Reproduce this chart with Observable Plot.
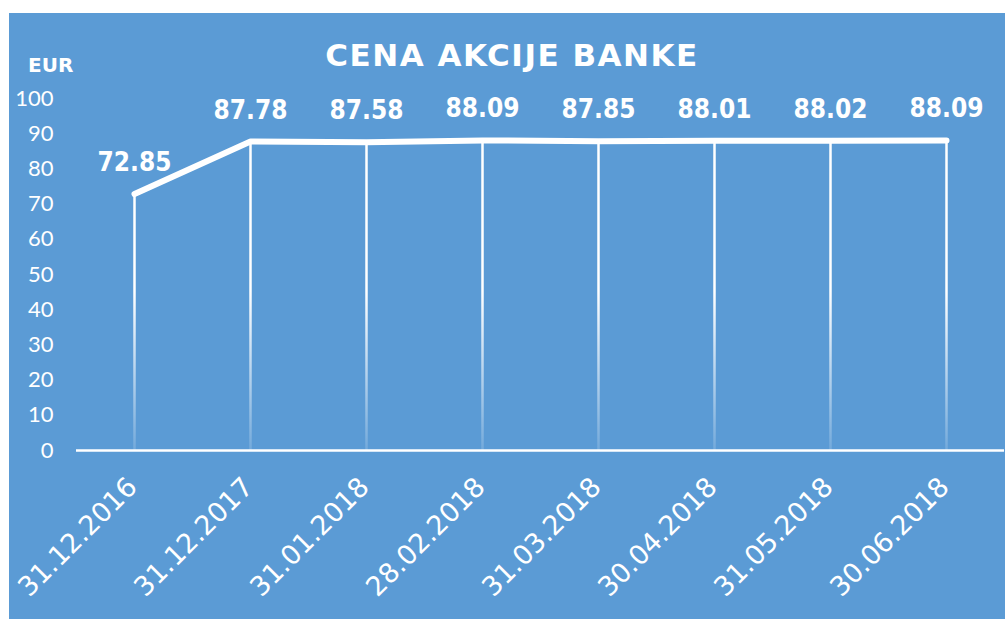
<!DOCTYPE html>
<html>
<head>
<meta charset="utf-8">
<script src="https://cdn.jsdelivr.net/npm/d3@7"></script>
<script src="https://cdn.jsdelivr.net/npm/@observablehq/plot@0.6"></script>
<style>
  html, body { margin: 0; padding: 0; background: #ffffff; }
  #wrap { position: absolute; left: 9px; top: 13px; width: 996px; height: 606px; background: #5b9bd5; overflow: hidden; }
  #title { position: absolute; left: 5px; width: 996px; top: 27px; text-align: center; color: #fff;
           font: bold 31px "DejaVu Sans"; line-height: 31px; letter-spacing: 1.5px; white-space: nowrap; }
  #unit { position: absolute; left: 19px; top: 42px; color: #fff; font: bold 20px "DejaVu Sans"; line-height: 20px; }
  #chart { position: absolute; left: 0; top: 0; }
</style>
</head>
<body>
<div id="wrap">
  <div id="chart"></div>
  <div id="title">CENA AKCIJE BANKE</div>
  <div id="unit">EUR</div>
</div>
<script>
const dates = ["31.12.2016", "31.12.2017", "31.01.2018", "28.02.2018", "31.03.2018", "30.04.2018", "31.05.2018", "30.06.2018"];
const prices = [72.85, 87.78, 87.58, 88.09, 87.85, 88.01, 88.02, 88.09];
const yTicks = [0, 10, 20, 30, 40, 50, 60, 70, 80, 90, 100];

const data = dates.map((d, i) => ({date: d, price: prices[i]}));

const chart = Plot.plot({
  width: 996,
  height: 606,
  marginTop: 85,
  marginBottom: 169,
  marginLeft: 67,
  marginRight: 1,
  style: {background: "transparent", color: "white", overflow: "visible"},
  x: {type: "point", domain: dates, padding: 0.5},
  y: {domain: [0, 100]},
  marks: [
    Plot.axisY({ticks: yTicks, tickSize: 0, tickPadding: 23, fontSize: 22, fontFamily: "Lato", label: null, fill: "white"}),
    Plot.axisX({tickRotate: -45, tickSize: 0, tickPadding: 32, dx: -2, fontSize: 27, fontFamily: "DejaVu Sans", label: null, fill: "white"}),
    Plot.ruleX(data, {x: "date", y1: 0, y2: "price", stroke: "url(#dropGrad)", strokeWidth: 2.5}),
    Plot.ruleY([0], {stroke: "white", strokeWidth: 2.5}),
    Plot.line(data, {x: "date", y: "price", stroke: "white", strokeWidth: 6, strokeLinecap: "round", strokeLinejoin: "round"}),
    Plot.text(data, {x: "date", y: "price", text: d => d.price.toFixed(2), dy: -23, lineAnchor: "bottom",
      fill: "white", fontSize: 26, fontWeight: "bold", fontFamily: "DejaVu Sans Condensed, DejaVu Sans"})
  ]
});

// gradient for the drop lines, placed in user space from the y scale
const ys = chart.scale("y");
const ns = "http://www.w3.org/2000/svg";
const defs = document.createElementNS(ns, "defs");
const grad = document.createElementNS(ns, "linearGradient");
grad.setAttribute("id", "dropGrad");
grad.setAttribute("gradientUnits", "userSpaceOnUse");
grad.setAttribute("x1", 0); grad.setAttribute("x2", 0);
grad.setAttribute("y1", ys.apply(45)); grad.setAttribute("y2", ys.apply(0));
[[0, 1], [1, 0.15]].forEach(([o, a]) => {
  const s = document.createElementNS(ns, "stop");
  s.setAttribute("offset", o);
  s.setAttribute("stop-color", "white");
  s.setAttribute("stop-opacity", a);
  grad.appendChild(s);
});
defs.appendChild(grad);
chart.insertBefore(defs, chart.firstChild);

document.getElementById("chart").appendChild(chart);
</script>
</body>
</html>
